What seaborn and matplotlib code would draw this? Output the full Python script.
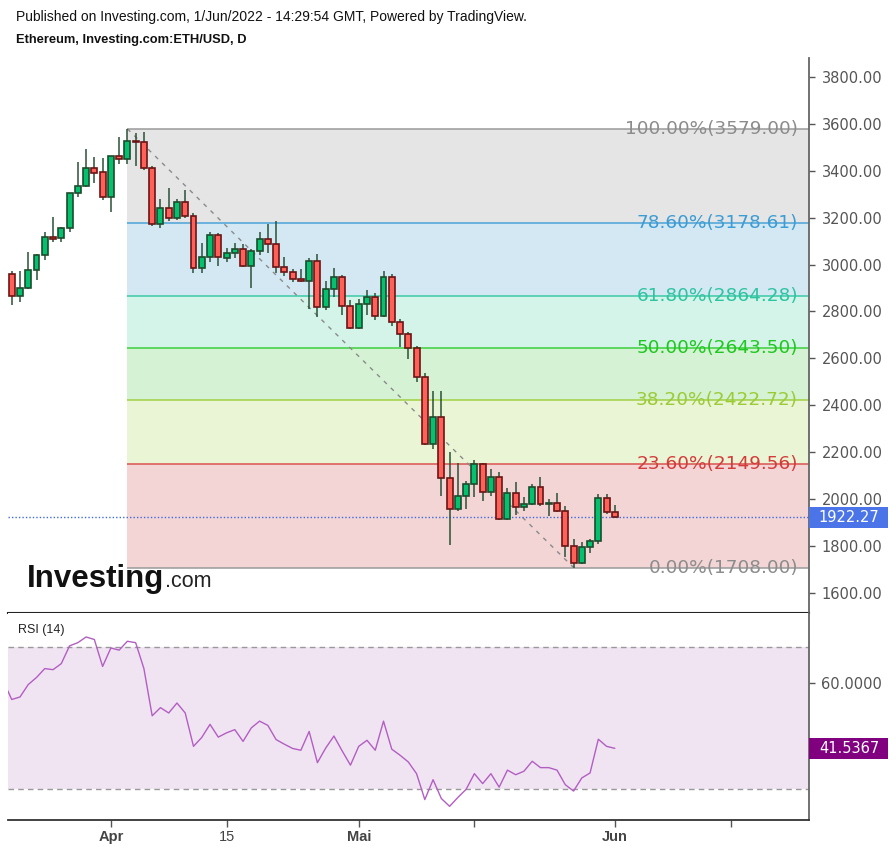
import matplotlib
matplotlib.use("Agg")
import matplotlib.pyplot as plt
import matplotlib.dates as mdates
import matplotlib.transforms as mtransforms
from matplotlib.patches import Rectangle
import numpy as np
import pandas as pd
import seaborn as sns

# ---------------- data ----------------
candle_start = "2022-03-20"
opens = [2959, 2868, 2900, 2976, 3041, 3119, 3112, 3155, 3305, 3336,
         3411, 3394, 3290, 3464, 3450, 3528, 3524, 3411, 3173, 3240,
         3200, 3266, 3206, 2984, 3034, 3124, 3027, 3049, 3066, 2996,
         3060, 3111, 3087, 2989, 2970, 2939, 2932, 3016, 2817, 2895,
         2946, 2824, 2731, 2831, 2863, 2782, 2946, 2753, 2703, 2643,
         2522, 2234, 2352, 2089, 1958, 2014, 2063, 2150, 2029, 2096,
         1913, 2025, 1965, 1980, 2051, 1980, 1985, 1947, 1800, 1729,
         1795, 1822, 2006, 1944]
highs = [2973, 2973, 3055, 3045, 3138, 3202, 3160, 3305, 3439, 3492,
         3458, 3454, 3464, 3543, 3579, 3560, 3567, 3420, 3278, 3326,
         3280, 3318, 3222, 3094, 3138, 3134, 3070, 3094, 3087, 3065,
         3138, 3172, 3186, 3034, 2980, 2980, 3027, 3044, 2930, 2984,
         2955, 2850, 2855, 2892, 2880, 2973, 2960, 2767, 2714, 2653,
         2537, 2461, 2461, 2200, 2153, 2078, 2167, 2153, 2129, 2115,
         2046, 2072, 2008, 2063, 2092, 2001, 2025, 1971, 1830, 1816,
         1830, 2022, 2022, 1975]
lows = [2828, 2840, 2895, 2935, 3020, 3095, 3095, 3141, 3287, 3330,
        3347, 3276, 3223, 3429, 3428, 3422, 3405, 3165, 3155, 3184,
        3190, 3200, 2963, 2963, 3013, 2994, 3009, 3027, 2990, 2899,
        3041, 3051, 2963, 2952, 2925, 2925, 2810, 2776, 2807, 2863,
        2786, 2725, 2725, 2785, 2765, 2775, 2740, 2648, 2597, 2501,
        2230, 2213, 2015, 1805, 1951, 1957, 2008, 1990, 2015, 1910,
        1910, 1930, 1950, 1975, 1971, 1926, 1943, 1752, 1708, 1725,
        1772, 1809, 1937, 1920]
closes = [2868, 2902, 2977, 3041, 3119, 3110, 3158, 3305, 3336, 3411,
          3392, 3290, 3464, 3451, 3528, 3524, 3411, 3173, 3240, 3200,
          3266, 3206, 2984, 3034, 3124, 3034, 3049, 3066, 2996, 3060,
          3111, 3087, 2989, 2970, 2938, 2932, 3016, 2817, 2895, 2946,
          2824, 2731, 2831, 2863, 2782, 2946, 2753, 2703, 2643, 2522,
          2234, 2352, 2089, 1958, 2014, 2063, 2150, 2029, 2096, 1913,
          2025, 1965, 1980, 2051, 1980, 1985, 1947, 1800, 1729, 1795,
          1822, 2006, 1944, 1922.27]

rsi_start = "2022-03-19"
rsi_values = [60.4,
              55.3, 56.0, 59.5, 61.5, 64.0, 63.7, 65.4, 70.4, 71.3, 72.9,
              72.2, 64.6, 69.8, 69.2, 71.7, 71.3, 64.0, 50.7, 53.0, 51.5,
              54.3, 51.5, 42.1, 44.6, 48.3, 44.7, 45.9, 46.8, 43.5, 47.3,
              49.2, 48.0, 44.0, 42.7, 41.5, 41.0, 46.3, 37.5, 41.6, 45.0,
              40.8, 36.8, 42.1, 43.8, 41.0, 49.2, 41.3, 39.6, 37.7, 34.4,
              27.1, 32.7, 27.4, 25.2, 27.7, 30.0, 34.4, 31.6, 34.4, 30.6,
              35.4, 34.1, 35.1, 37.9, 36.1, 36.1, 35.4, 31.3, 29.5, 33.2,
              34.6, 44.1, 42.1, 41.5367]

price_ticks = [1600, 1800, 2000, 2200, 2400, 2600, 2800, 3000, 3200, 3400, 3600, 3800]
rsi_ticks = [60]
x_tick_dates = ["2022-04-01", "2022-04-15", "2022-05-01", "2022-05-15", "2022-06-01", "2022-06-15"]
x_tick_labels = ["Apr", "15", "Mai", "", "Jun", ""]

fib_high = 3579.0
fib_low = 1708.0
fib_high_date = "2022-04-03"
fib_low_date = "2022-05-27"
fib_levels = [1.0, 0.786, 0.618, 0.5, 0.382, 0.236, 0.0]
fib_line_colors = ["#9a9a9a", "#4aa3d8", "#3cc9a6", "#3dcf3d", "#a2d043", "#d9534f", "#9a9a9a"]
fib_text_colors = ["#8c8c8c", "#3c9dd4", "#2ec4a0", "#1fc81f", "#9ccb36", "#d43c3c", "#8c8c8c"]
fib_fill_colors = ["#e5e5e5", "#d4e8f4", "#d4f4ea", "#d5f2d5", "#eaf5d5", "#f3d5d5"]

last_price = 1922.27
rsi_last = 41.5367

header_line1 = "Published on Investing.com, 1/Jun/2022 - 14:29:54 GMT, Powered by TradingView."
header_line2 = "Ethereum, Investing.com:ETH/USD, D"

# ---------------- style ----------------
sns.set_theme(style="white")
plt.rcParams['font.family'] = ['DejaVu Sans']

W, H = 893, 852
fig = plt.figure(figsize=(W / 100, H / 100), dpi=100)
fig.patch.set_facecolor("white")


def fx(px):
    return px / W


def fy(py):
    return 1 - py / H


ax = fig.add_axes([fx(8), fy(613), (809 - 8) / W, (613 - 58) / H])
ax_r = fig.add_axes([fx(8), fy(820), (809 - 8) / W, (820 - 613) / H])
for a in (ax, ax_r):
    a.set_facecolor("white")
    a.grid(False)

dates = pd.date_range(candle_start, periods=len(opens), freq="D")
x = mdates.date2num(dates.to_pydatetime())
o = np.array(opens, float)
h = np.array(highs, float)
l = np.array(lows, float)
c = np.array(closes, float)

x0 = x[0]
xleft = x0 - 0.45
xright = x0 + 96.5

# ---- fibonacci ----
fib_vals = [fib_low + (fib_high - fib_low) * lv for lv in fib_levels]
xs = mdates.date2num(pd.Timestamp(fib_high_date))
xe_low = mdates.date2num(pd.Timestamp(fib_low_date))
for i in range(len(fib_vals) - 1):
    ax.add_patch(Rectangle((xs, fib_vals[i + 1]), xright - xs, fib_vals[i] - fib_vals[i + 1],
                           facecolor=fib_fill_colors[i], edgecolor="none", zorder=0))
for lv, v, lc, tc in zip(fib_levels, fib_vals, fib_line_colors, fib_text_colors):
    ax.plot([xs, xright], [v, v], color=lc, lw=1.1, zorder=1, solid_capstyle="butt")
    ax.text(xright - 1.33, v, f"{lv * 100:.2f}%({v:.2f})", ha="right", va="center",
            color=tc, fontsize=13.3, zorder=6)

ax.plot([xs, xe_low], [fib_high, fib_low], color="#8a8a8a", lw=1, ls=(0, (3, 4)), zorder=2)
ax.axhline(last_price, color="#3d6be0", lw=1, ls=(0, (1, 1.5)), zorder=2)

# ---- candles ----
up = c >= o
bottom = np.minimum(o, c)
height = np.maximum(np.abs(c - o), 2.5)
ax.vlines(x, l, h, colors="#2a5237", lw=1.1, zorder=3)
ax.bar(x[up], height[up], bottom=bottom[up], width=0.72, color="#05c06e",
       edgecolor="#1b4d2c", linewidth=1.2, zorder=4)
ax.bar(x[~up], height[~up], bottom=bottom[~up], width=0.72, color="#ff6158",
       edgecolor="#6a1515", linewidth=1.2, zorder=4)

ax.set_xlim(xleft, xright)
ax.set_ylim(1514, 3881)
ax.yaxis.tick_right()
ax.set_yticks(price_ticks)
ax.set_yticklabels([f"{t:.2f}" for t in price_ticks])
ax.tick_params(axis="y", which="both", right=True, left=False, length=4, width=1,
               color="#555555", labelcolor="#555555", labelsize=10.5, pad=5)
ax.tick_params(axis="x", bottom=False, labelbottom=False)
ax.spines["top"].set_visible(False)
ax.spines["left"].set_visible(False)
ax.spines["right"].set_color("#666666")
ax.spines["right"].set_linewidth(1.3)
ax.spines["bottom"].set_color("#222222")
ax.spines["bottom"].set_linewidth(1.5)

# last price box
trans = mtransforms.blended_transform_factory(ax.transAxes, ax.transData)
box_h = 21 / ((613 - 58) / (3881 - 1514))
ax.add_patch(Rectangle((1.0, last_price - box_h / 2), 79 / 801, box_h, transform=trans,
                       facecolor="#4a74e8", edgecolor="none", clip_on=False, zorder=10))
ax.text(1.0 + 40 / 801, last_price, f"{last_price:.2f}", transform=trans, ha="center",
        va="center", color="white", fontsize=10.5, zorder=11, clip_on=False)

# ---- RSI ----
rsi_dates = pd.date_range(rsi_start, periods=len(rsi_values), freq="D")
rsi_x = mdates.date2num(rsi_dates.to_pydatetime())
ax_r.axhspan(30, 70, color="#f0e4f2", zorder=0, lw=0)
ax_r.axhline(70, color="#999999", lw=1, ls=(0, (4, 3)), zorder=1)
ax_r.axhline(30, color="#999999", lw=1, ls=(0, (4, 3)), zorder=1)
sns.lineplot(x=rsi_x, y=rsi_values, ax=ax_r, color="#b35ec2", lw=1, zorder=3)
ax_r.set_xlabel("")
ax_r.set_ylabel("")
ax_r.set_xlim(xleft, xright)
ax_r.set_ylim(21.35, 79.66)
ax_r.yaxis.tick_right()
ax_r.set_yticks(rsi_ticks)
ax_r.set_yticklabels([f"{t:.4f}" for t in rsi_ticks])
ax_r.tick_params(axis="y", which="both", right=True, left=False, length=4, width=1,
                 color="#555555", labelcolor="#555555", labelsize=10.5, pad=5)
tick_nums = mdates.date2num(pd.to_datetime(x_tick_dates).to_pydatetime())
ax_r.set_xticks(tick_nums)
ax_r.set_xticklabels(x_tick_labels)
ax_r.tick_params(axis="x", bottom=True, length=5, width=1, color="#555555",
                 labelcolor="#444444", labelsize=10.5, pad=2)
for lab in ax_r.get_xticklabels():
    lab.set_family(["Liberation Sans", "DejaVu Sans"])
    if lab.get_text() not in ("15", ""):
        lab.set_fontweight("bold")
ax_r.spines["top"].set_visible(False)
ax_r.spines["left"].set_visible(False)
ax_r.spines["right"].set_color("#666666")
ax_r.spines["right"].set_linewidth(1.3)
ax_r.spines["bottom"].set_color("#333333")
ax_r.spines["bottom"].set_linewidth(1.3)

trans_r = mtransforms.blended_transform_factory(ax_r.transAxes, ax_r.transData)
rbox_h = 21 / ((820 - 613) / (79.66 - 21.35))
ax_r.add_patch(Rectangle((1.0, rsi_last - rbox_h / 2), 79 / 801, rbox_h, transform=trans_r,
                         facecolor="#800080", edgecolor="none", clip_on=False, zorder=10))
ax_r.text(1.0 + 40 / 801, rsi_last, f"{rsi_last:.4f}", transform=trans_r, ha="center",
          va="center", color="white", fontsize=10.5, zorder=11, clip_on=False)

# ---- texts ----
fig.text(fx(16), fy(17), header_line1, ha="left", va="center", fontsize=10,
         family=["Liberation Sans", "DejaVu Sans"], color="#111111")
fig.text(fx(16), fy(40), header_line2, ha="left", va="center", fontsize=9.3, fontweight="bold",
         family=["Liberation Sans", "DejaVu Sans"], color="#111111")
fig.text(fx(18), fy(630), "RSI (14)", ha="left", va="center", fontsize=9,
         family=["Liberation Sans", "DejaVu Sans"], color="#222222")
logo = fig.text(fx(27), fy(587), "Investing", ha="left", va="baseline", fontsize=22.5,
                fontweight="bold", family=["Liberation Sans", "DejaVu Sans"], color="#111111")
fig.canvas.draw()
bb = logo.get_window_extent(renderer=fig.canvas.get_renderer())
fig.text(bb.x1 / W + 1.0 / W, fy(587), ".com", ha="left", va="baseline", fontsize=15.5,
         family=["Liberation Sans", "DejaVu Sans"], color="#222222")

fig.savefig("out.png", dpi=100, facecolor="white")
